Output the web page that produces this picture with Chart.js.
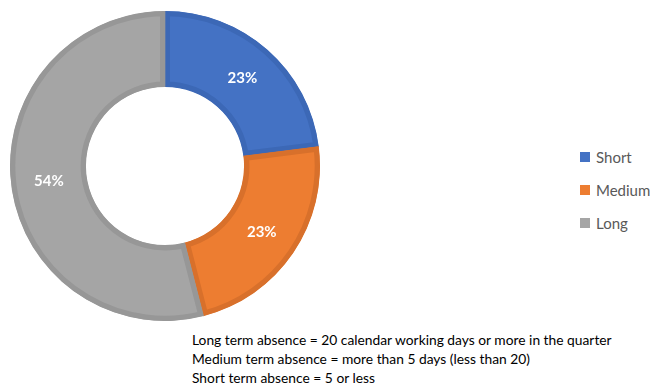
<!DOCTYPE html>
<html>
<head>
<meta charset="utf-8">
<script src="https://cdn.jsdelivr.net/npm/chart.js@4"></script>
<style>
  body { margin: 0; background: #fff; font-family: Lato, "Open Sans", sans-serif; }
  #wrap { position: relative; width: 655px; height: 389px; }
  #chart-box { position: absolute; left: 10px; top: 11px; width: 310px; height: 310px; }
  #legend { position: absolute; left: 580px; top: 147px; color: #595959; font-size: 15px; }
  .legend-item { height: 20px; margin-bottom: 13px; display: flex; align-items: center; }
  .legend-box { width: 10px; height: 10px; margin-right: 6px; }
  #note { position: absolute; left: 192px; top: 330px; font-size: 13.8px; line-height: 19px; color: #000; white-space: nowrap; }
</style>
</head>
<body>
<div id="wrap">
  <div id="chart-box"><canvas id="donut"></canvas></div>
  <div id="legend"></div>
  <div id="note"></div>
</div>
<script>
const labels = ['Short', 'Medium', 'Long'];
const shares = [23, 23, 54];
const fillColors = ['#4472C4', '#ED7D31', '#A5A5A5'];
const edgeColors = ['#3C68B6', '#D8702B', '#979797'];
const notes = [
  'Long term absence = 20 calendar working days or more in the quarter',
  'Medium term absence = more than 5 days (less than 20)',
  'Short term absence = 5 or less'
];

// percentage labels drawn in the middle of each arc
const sliceLabels = {
  id: 'sliceLabels',
  afterDatasetsDraw(chart) {
    const ctx = chart.ctx;
    const meta = chart.getDatasetMeta(0);
    ctx.save();
    ctx.fillStyle = '#ffffff';
    ctx.font = 'bold 15px Lato, "Open Sans", sans-serif';
    ctx.textAlign = 'center';
    ctx.textBaseline = 'middle';
    meta.data.forEach((arc, i) => {
      const pos = arc.tooltipPosition();
      ctx.fillText(shares[i] + '%', pos.x, pos.y);
    });
    ctx.restore();
  }
};

new Chart(document.getElementById('donut'), {
  type: 'doughnut',
  data: {
    labels: labels,
    datasets: [{
      data: shares,
      backgroundColor: fillColors,
      borderColor: edgeColors,
      borderWidth: 5,
      borderAlign: 'inner',
      hoverOffset: 0
    }]
  },
  options: {
    responsive: true,
    maintainAspectRatio: false,
    animation: false,
    cutout: '51%',
    layout: { padding: 0 },
    plugins: {
      legend: { display: false },
      tooltip: { enabled: false }
    }
  },
  plugins: [sliceLabels]
});

// legend
const legend = document.getElementById('legend');
labels.forEach((name, i) => {
  const item = document.createElement('div');
  item.className = 'legend-item';
  const box = document.createElement('span');
  box.className = 'legend-box';
  box.style.background = fillColors[i];
  const text = document.createElement('span');
  text.textContent = name;
  item.appendChild(box);
  item.appendChild(text);
  legend.appendChild(item);
});

// footnote
const note = document.getElementById('note');
notes.forEach(line => {
  const div = document.createElement('div');
  div.textContent = line;
  note.appendChild(div);
});
</script>
</body>
</html>
